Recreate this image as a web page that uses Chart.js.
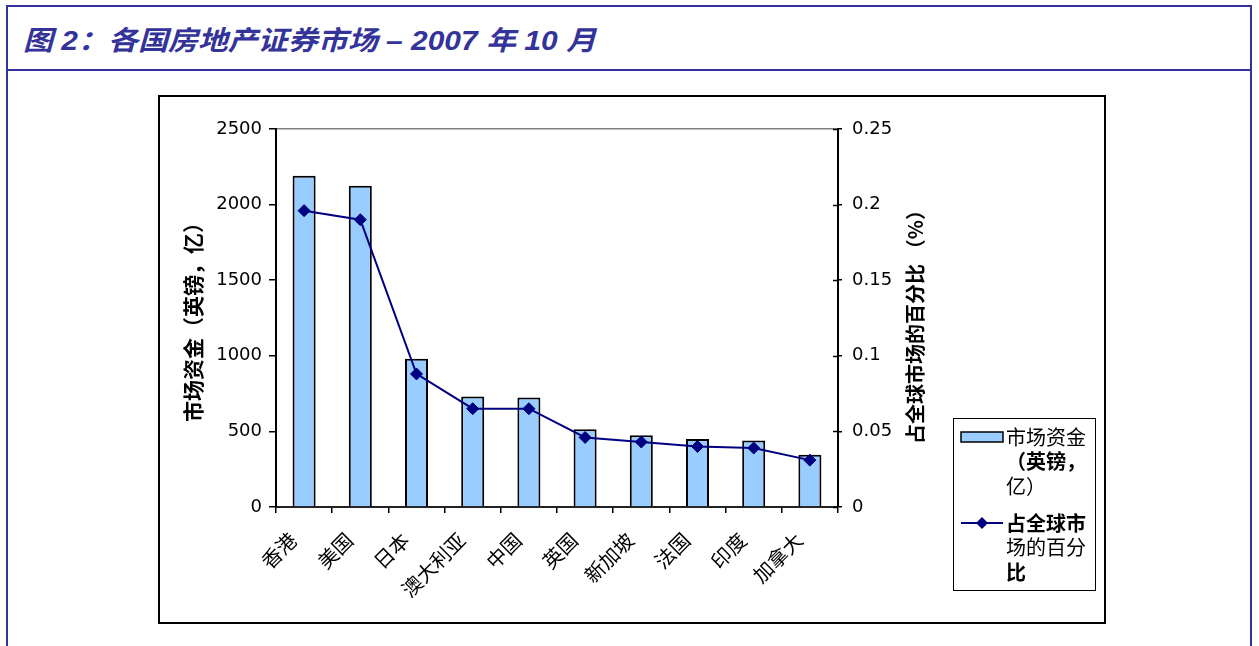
<!DOCTYPE html>
<html>
<head>
<meta charset="utf-8">
<script src="https://cdn.jsdelivr.net/npm/chart.js@4.4.0/dist/chart.umd.min.js"></script>
<style>
  html, body { margin: 0; padding: 0; background: #fff; width: 1259px; height: 646px; overflow: hidden; }
  .frame { position: absolute; left: 6px; top: 5px; width: 1242px; height: 700px; border: 2px solid #333399; border-bottom: none; }
  .head { position: absolute; left: 0; top: 0; right: 0; height: 62px; border-bottom: 2px solid #333399; }
  .head h1 {
    margin: 0; position: absolute; left: 15px; top: 12px; line-height: 30px;
    font: italic bold 27px "Liberation Sans", "Noto Sans CJK SC", sans-serif;
    color: #333399; white-space: nowrap;
    transform: scaleX(1.11); transform-origin: left center;
  }
  .box { position: absolute; left: 158px; top: 95px; width: 944px; height: 525px; border: 2px solid #000; background: #fff; }
  .box canvas { position: absolute; left: 0; top: 0; }
</style>
</head>
<body>
<div class="frame">
  <div class="head"><h1>图 2：各国房地产证券市场 – 2007 年 10 月</h1></div>
</div>
<div class="box"><canvas id="chart" width="944" height="525"></canvas></div>

<script>
// Markets, ordered by size of the listed real-estate sector
const categories = ['香港', '美国', '日本', '澳大利亚', '中国', '英国', '新加坡', '法国', '印度', '加拿大'];
// Market capitalisation, GBP 100m
const marketCap = [2190, 2125, 980, 730, 725, 515, 475, 450, 440, 345];
// Share of the global market (%)
const globalShare = [0.196, 0.19, 0.088, 0.065, 0.065, 0.046, 0.043, 0.040, 0.039, 0.031];

// Axis tick values
const capTicks = [0, 500, 1000, 1500, 2000, 2500];
const shareTicks = [0, 0.05, 0.1, 0.15, 0.2, 0.25];

const capLabel = '市场资金（英镑，亿）';
const shareLabel = '占全球市场的百分比';
const shareAxisTitle = '占全球市场的百分比 （%）';

const NUM_FONT = "'DejaVu Sans', sans-serif";
const CJK_FONT = "'Noto Sans CJK SC', sans-serif";

// Axis titles, wrapped legend and the inner half of the right-axis ticks
const decorations = {
  id: 'decorations',
  afterDraw(chart) {
    const ctx = chart.ctx;
    const area = chart.chartArea;

    // right-axis ticks cross the axis line
    const y1 = chart.scales.y1;
    ctx.save();
    ctx.strokeStyle = '#000';
    ctx.lineWidth = 1.5;
    y1.ticks.forEach(t => {
      const py = Math.round(y1.getPixelForValue(t.value)) + 0.5;
      ctx.beginPath();
      ctx.moveTo(area.right - 5, py);
      ctx.lineTo(area.right, py);
      ctx.stroke();
    });
    ctx.restore();

    // axis titles
    ctx.save();
    ctx.fillStyle = '#000';
    ctx.textAlign = 'center';
    ctx.textBaseline = 'middle';
    ctx.font = 'bold 21px ' + CJK_FONT;
    ctx.translate(33, 220);
    ctx.rotate(-Math.PI / 2);
    ctx.fillText(capLabel, 0, 0);
    ctx.restore();

    ctx.save();
    ctx.fillStyle = '#000';
    ctx.textAlign = 'center';
    ctx.textBaseline = 'middle';
    ctx.font = 'bold 20px ' + CJK_FONT;
    ctx.translate(755, 225);
    ctx.rotate(-Math.PI / 2);
    ctx.fillText(shareAxisTitle, 0, 0);
    ctx.restore();

    // legend box
    const lx = 793, ly = 321, lw = 142, lh = 172;
    ctx.save();
    ctx.strokeStyle = '#000';
    ctx.lineWidth = 1;
    ctx.strokeRect(lx + 0.5, ly + 0.5, lw, lh);

    const chunk = s => { const out = []; const a = Array.from(s); for (let i = 0; i < a.length; i += 4) out.push(a.slice(i, i + 4).join('')); return out; };
    const barSet = chart.data.datasets.find(d => d.type !== 'line');
    const lineSet = chart.data.datasets.find(d => d.type === 'line');

    // bar entry
    ctx.fillStyle = barSet.backgroundColor;
    ctx.fillRect(801, 335, 42, 10);
    ctx.strokeStyle = '#000';
    ctx.lineWidth = 1.5;
    ctx.strokeRect(801, 335, 42, 10);

    ctx.fillStyle = '#000';
    ctx.textAlign = 'left';
    ctx.textBaseline = 'middle';
    const barWeights = ['normal', 'bold', 'normal'];
    chunk(barSet.label).forEach((line, i) => {
      ctx.font = barWeights[i] + ' 20px ' + CJK_FONT;
      ctx.fillText(line, 846, 340 + i * 24.5);
    });

    // line entry
    ctx.strokeStyle = lineSet.borderColor;
    ctx.lineWidth = 2;
    ctx.beginPath();
    ctx.moveTo(801, 426);
    ctx.lineTo(843, 426);
    ctx.stroke();
    ctx.fillStyle = lineSet.backgroundColor;
    ctx.beginPath();
    ctx.moveTo(822, 420); ctx.lineTo(828, 426); ctx.lineTo(822, 432); ctx.lineTo(816, 426);
    ctx.closePath();
    ctx.fill();

    ctx.fillStyle = '#000';
    const lineWeights = ['bold', 'normal', 'bold'];
    chunk(lineSet.label).forEach((line, i) => {
      ctx.font = lineWeights[i] + ' 20px ' + CJK_FONT;
      ctx.fillText(line, 846, 426 + i * 24.5);
    });
    ctx.restore();
  }
};

new Chart(document.getElementById('chart'), {
  type: 'bar',
  data: {
    labels: categories,
    datasets: [
      {
        type: 'line',
        label: shareLabel,
        data: globalShare,
        yAxisID: 'y1',
        order: 0,
        borderColor: '#000080',
        backgroundColor: '#000080',
        borderWidth: 2,
        tension: 0,
        pointStyle: 'rectRot',
        pointRadius: 6,
        pointBorderWidth: 1,
        pointBackgroundColor: '#000080',
        pointBorderColor: '#000080'
      },
      {
        type: 'bar',
        label: capLabel,
        data: marketCap,
        yAxisID: 'y',
        order: 1,
        backgroundColor: '#99CCFF',
        borderColor: '#000',
        borderWidth: 2,
        categoryPercentage: 1,
        barPercentage: 0.41
      }
    ]
  },
  options: {
    responsive: false,
    animation: false,
    devicePixelRatio: 1,
    layout: { padding: { top: 32, left: 0, right: 0, bottom: 0 } },
    plugins: { legend: { display: false }, tooltip: { enabled: false } },
    scales: {
      x: {
        offset: true,
        afterFit(scale) { scale.height = 115; },
        grid: { drawOnChartArea: false, drawTicks: true, tickLength: 6, color: '#000', lineWidth: 1.5 },
        border: { color: '#222', width: 2 },
        ticks: {
          color: '#000',
          font: { family: CJK_FONT, size: 20 },
          minRotation: 45,
          maxRotation: 45,
          autoSkip: false,
          padding: 15,
          labelOffset: -11
        }
      },
      y: {
        position: 'left',
        min: 0,
        max: 2500,
        afterFit(scale) { scale.width = 116; },
        afterBuildTicks(scale) { scale.ticks = capTicks.map(v => ({ value: v })); },
        grid: {
          drawOnChartArea: true,
          drawTicks: true,
          tickLength: 7,
          lineWidth: 1.5,
          color: c => (c.tick && c.tick.value === 2500 ? '#808080' : 'rgba(0,0,0,0)'),
          tickColor: '#000'
        },
        border: { color: '#000', width: 2 },
        ticks: {
          color: '#000',
          font: { family: NUM_FONT, size: 18 },
          padding: 7,
          callback: v => String(v)
        }
      },
      y1: {
        position: 'right',
        min: 0,
        max: 0.25,
        afterFit(scale) { scale.width = 266; },
        afterBuildTicks(scale) { scale.ticks = shareTicks.map(v => ({ value: v })); },
        grid: { drawOnChartArea: false, drawTicks: true, tickLength: 4, lineWidth: 1.5, color: '#000' },
        border: { color: '#000', width: 2 },
        ticks: {
          color: '#000',
          font: { family: NUM_FONT, size: 18 },
          padding: 10,
          callback: v => String(+Number(v).toFixed(2))
        }
      }
    }
  },
  plugins: [decorations]
});
</script>
</body>
</html>
